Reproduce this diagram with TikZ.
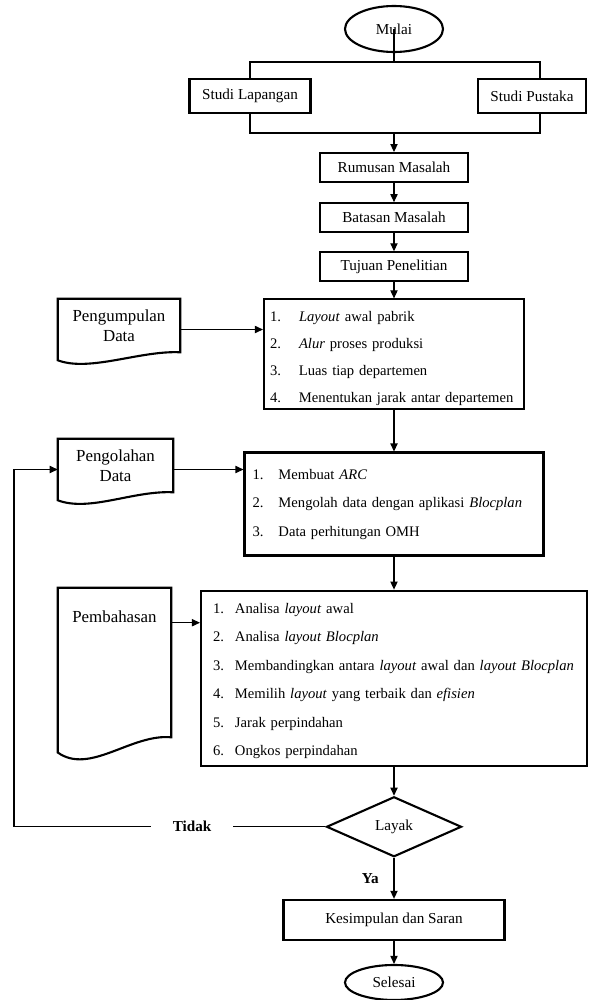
\documentclass[tikz,border=0pt]{standalone}
\usepackage{fontspec}
\setmainfont{Liberation Serif}
\usetikzlibrary{arrows.meta,positioning,calc,shapes.geometric}
\tikzset{
  pbox/.style={draw, line width=1.5pt, align=center, minimum height=0.725cm,
               font=\fontsize{10.8}{13}\selectfont},
  term/.style={ellipse, draw, line width=1.5pt, inner sep=0pt, minimum width=2.45cm,
               font=\fontsize{10.8}{13}\selectfont},
  dbox/.style={diamond, aspect=2.2, draw, line width=1.5pt, inner sep=0pt,
               minimum width=3.375cm, minimum height=1.5cm, font=\fontsize{10.8}{13}\selectfont},
  lbox/.style={draw, line width=1.5pt, align=left, inner xsep=0.15cm, inner ysep=0pt},
  docnode/.style={align=center, inner xsep=0pt, font=\fontsize{12}{14.2}\selectfont},
  docedge/.style={line width=1.5pt, line join=miter},
  conn/.style={line width=0.8pt},
  flow/.style={-{Triangle[length=2mm,width=1.8mm]}, line width=0.8pt},
  tlabel/.style={fill=white, inner xsep=0.55cm, font=\bfseries\fontsize{10.8}{13}\selectfont},
}
\newcommand{\nitem}[3]{\mbox{\makebox[#1][l]{#2}#3}}
% outline of a document shape round node #1, #2 = depth of the wave
\newcommand{\docline}[2]{%
  \draw[docedge] (#1.north west) -- (#1.north east) -- (#1.south east)
    .. controls ([shift={(-1.0cm,#2*0.05cm)}]#1.south east)
       and ([shift={(0.8cm,-#2*0.5cm)}]#1.south west)
    .. ([yshift=-#2*0.2cm]#1.south west) -- cycle;}

\begin{document}
\begin{tikzpicture}
  \useasboundingbox (0,0) rectangle (14.725,-25);
  % start and studies
  \node[term, minimum height=1.15cm] (mulai) at (9.85,-0.725) {Mulai};
  \node[pbox, minimum width=3.025cm, minimum height=0.85cm] (lap) at (6.25,-2.4) {Studi Lapangan};
  \node[pbox, minimum width=2.7cm, minimum height=0.85cm] (pus) at (13.3,-2.4) {Studi Pustaka};
  \coordinate (split) at (9.85,-1.55);
  \coordinate (join) at (9.85,-3.325);
  % main column
  \node[pbox, minimum width=3.7cm, below=2.475cm of mulai] (rumusan) {Rumusan Masalah};
  \node[pbox, minimum width=3.7cm, below=0.475cm of rumusan] (batasan) {Batasan Masalah};
  \node[pbox, minimum width=3.7cm, below=0.45cm of batasan] (tujuan) {Tujuan Penelitian};
  \node[lbox, text width=6.2cm, minimum height=2.75cm, below=0.4cm of tujuan,
        font=\fontsize{10.4}{19.2}\selectfont] (box1)
    {\rule{0pt}{0.47cm}\nitem{0.725cm}{1.}{\textit{Layout} awal pabrik}\\
     \nitem{0.725cm}{2.}{\textit{Alur} proses produksi}\\
     \nitem{0.725cm}{3.}{Luas tiap departemen}\\
     \nitem{0.725cm}{4.}{Menentukan jarak antar departemen}};
  \node[lbox, inner xsep=0.2cm, text width=7.075cm, minimum height=2.575cm, below=1.025cm of box1,
        font=\fontsize{10.4}{20.3}\selectfont] (box2)
    {\nitem{0.65cm}{1.}{Membuat \textit{ARC}}\\
     \nitem{0.65cm}{2.}{Mengolah data dengan aplikasi \textit{Blocplan}}\\
     \nitem{0.65cm}{3.}{Data perhitungan OMH}};
  \node[lbox, inner xsep=0.3cm, text width=9.05cm, minimum height=4.375cm, below=0.825cm of box2,
        font=\fontsize{10.4}{20.2}\selectfont] (box3)
    {\rule{0pt}{0.4cm}\nitem{0.55cm}{1.}{Analisa \textit{layout} awal}\\
     \nitem{0.55cm}{2.}{Analisa \textit{layout Blocplan}}\\
     \nitem{0.55cm}{3.}{Membandingkan antara \textit{layout} awal dan \textit{layout Blocplan}}\\
     \nitem{0.55cm}{4.}{Memilih \textit{layout} yang terbaik dan \textit{efisien}}\\
     \nitem{0.55cm}{5.}{Jarak perpindahan}\\
     \nitem{0.55cm}{6.}{Ongkos perpindahan}};
  \node[dbox, below=0.725cm of box3] (layak) {Layak};
  \node[pbox, minimum width=5.525cm, minimum height=1.0cm, below=1.025cm of layak] (kesimpulan) {Kesimpulan dan Saran};
  \node[term, minimum height=0.875cm, below=0.575cm of kesimpulan] (selesai) {Selesai};
  % documents on the left
  \node[docnode, minimum width=3.05cm, minimum height=1.325cm] (kumpul) at (2.975,-8.1375) {Pengumpulan\\Data};
  \node[docnode, minimum width=2.875cm, minimum height=1.325cm] (olah) at (2.8875,-11.6375) {Pengolahan\\Data};
  \node[docnode, minimum width=2.825cm, minimum height=3.725cm, inner ysep=0pt,
        text height=0.85cm, text depth=2.875cm] (bahas) at (2.8625,-16.5625) {Pembahasan};
  \docline{kumpul}{1}
  \docline{olah}{1}
  \docline{bahas}{1.9}
  % connectors
  \draw[conn] (mulai.center) -- (split);
  \draw[conn] (lap.north) |- (split) -| ([xshift=0.2cm]pus.north);
  \draw[conn] (lap.south) |- (join) -| ([xshift=0.2cm]pus.south);
  \draw[flow] (join) -- (rumusan);
  \draw[flow] (rumusan) -- (batasan);
  \draw[flow] (batasan) -- (tujuan);
  \draw[flow] (tujuan) -- (box1);
  \draw[flow] (box1) -- (box2);
  \draw[flow] (box2) -- (box3);
  \draw[flow] (box3) -- (layak);
  \draw[flow] (kesimpulan) -- (selesai);
  \coordinate (kumpulout) at ([yshift=-0.1cm]kumpul.east);
  \coordinate (olahout) at ([yshift=-0.1cm]olah.east);
  \coordinate (olahin) at ([yshift=-0.1cm]olah.west);
  \coordinate (bahasout) at ([yshift=-0.875cm]bahas.north east);
  \draw[flow] (kumpulout) -- (kumpulout -| box1.west);
  \draw[flow] (olahout) -- (olahout -| box2.west);
  \draw[flow] (bahasout) -- (bahasout -| box3.west);
  % decision
  \coordinate (back) at (0.35,0);
  \draw[flow] (layak.west) -- node[tlabel, pos=0.428] (tidak) {Tidak} (layak.west -| back) |- (olahin);
  \draw[flow] (layak.south) -- node[midway, left=0.25cm, font=\bfseries\fontsize{10.8}{13}\selectfont] (ya) {Ya} (kesimpulan.north);
\end{tikzpicture}
\end{document}
